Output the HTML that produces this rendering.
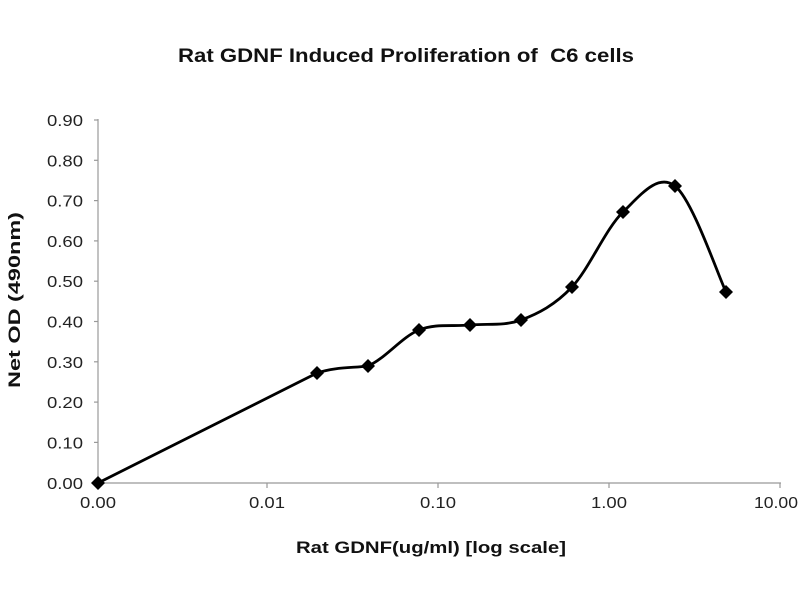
<!DOCTYPE html>
<html><head><meta charset="utf-8"><style>
html,body{margin:0;padding:0;background:#fff;}
svg{display:block;font-family:"Liberation Sans",Arial,sans-serif;}
</style></head><body>
<svg width="800" height="600" viewBox="0 0 800 600" xmlns="http://www.w3.org/2000/svg">
<text x="406" y="62" text-anchor="middle" font-size="19" font-weight="bold" fill="#111" textLength="456" lengthAdjust="spacingAndGlyphs" xml:space="preserve">Rat GDNF Induced Proliferation of  C6 cells</text>
<g stroke="#999" stroke-width="1.2" fill="none">
<line x1="98" y1="119" x2="98" y2="483"/>
<line x1="98" y1="483" x2="781" y2="483"/>
<line x1="94" y1="120" x2="98" y2="120"/>
<line x1="94" y1="160.3" x2="98" y2="160.3"/>
<line x1="94" y1="200.6" x2="98" y2="200.6"/>
<line x1="94" y1="240.9" x2="98" y2="240.9"/>
<line x1="94" y1="281.2" x2="98" y2="281.2"/>
<line x1="94" y1="321.5" x2="98" y2="321.5"/>
<line x1="94" y1="361.8" x2="98" y2="361.8"/>
<line x1="94" y1="402.1" x2="98" y2="402.1"/>
<line x1="94" y1="442.4" x2="98" y2="442.4"/>
<line x1="267" y1="483" x2="267" y2="488"/>
<line x1="438" y1="483" x2="438" y2="488"/>
<line x1="609" y1="483" x2="609" y2="488"/>
<line x1="780" y1="483" x2="780" y2="488"/>
</g>
<g font-size="15.5" fill="#222">
<text x="47" y="126" textLength="36" lengthAdjust="spacingAndGlyphs">0.90</text>
<text x="47" y="166.3" textLength="36" lengthAdjust="spacingAndGlyphs">0.80</text>
<text x="47" y="206.6" textLength="36" lengthAdjust="spacingAndGlyphs">0.70</text>
<text x="47" y="246.9" textLength="36" lengthAdjust="spacingAndGlyphs">0.60</text>
<text x="47" y="287.2" textLength="36" lengthAdjust="spacingAndGlyphs">0.50</text>
<text x="47" y="327.5" textLength="36" lengthAdjust="spacingAndGlyphs">0.40</text>
<text x="47" y="367.8" textLength="36" lengthAdjust="spacingAndGlyphs">0.30</text>
<text x="47" y="408.1" textLength="36" lengthAdjust="spacingAndGlyphs">0.20</text>
<text x="47" y="448.4" textLength="36" lengthAdjust="spacingAndGlyphs">0.10</text>
<text x="47" y="489" textLength="36" lengthAdjust="spacingAndGlyphs">0.00</text>
<text x="80" y="508" textLength="36" lengthAdjust="spacingAndGlyphs">0.00</text>
<text x="249" y="508" textLength="36" lengthAdjust="spacingAndGlyphs">0.01</text>
<text x="420" y="508" textLength="36" lengthAdjust="spacingAndGlyphs">0.10</text>
<text x="591" y="508" textLength="36" lengthAdjust="spacingAndGlyphs">1.00</text>
<text x="754" y="508" textLength="44" lengthAdjust="spacingAndGlyphs">10.00</text>
</g>
<text x="431" y="553" text-anchor="middle" font-size="17" font-weight="bold" fill="#111" textLength="270" lengthAdjust="spacingAndGlyphs">Rat GDNF(ug/ml) [log scale]</text>
<text transform="translate(20,300) rotate(-90)" text-anchor="middle" font-size="17" font-weight="bold" fill="#111" textLength="176" lengthAdjust="spacingAndGlyphs">Net OD (490nm)</text>
<path fill="none" stroke="#000" stroke-width="2.8" d="M98,483 L317,373 C335,367 352,368 368,366 C385,358.8 402,336.8 419,330 C436,323.2 453,326.7 470,325 C487,323.3 504,326.3 521,320 C538,313.7 555,305 572,287 C589,269 605.8,228.5 623,212 C640.2,195.5 657.8,172.7 675,186 C692.2,199.3 717.5,274 726,292"/>
<g fill="#000">
<path d="M98,476 l7,7 l-7,7 l-7,-7z"/>
<path d="M317,366 l7,7 l-7,7 l-7,-7z"/>
<path d="M368,359 l7,7 l-7,7 l-7,-7z"/>
<path d="M419,323 l7,7 l-7,7 l-7,-7z"/>
<path d="M470,318 l7,7 l-7,7 l-7,-7z"/>
<path d="M521,313 l7,7 l-7,7 l-7,-7z"/>
<path d="M572,280 l7,7 l-7,7 l-7,-7z"/>
<path d="M623,205 l7,7 l-7,7 l-7,-7z"/>
<path d="M675,179 l7,7 l-7,7 l-7,-7z"/>
<path d="M726,285 l7,7 l-7,7 l-7,-7z"/>
</g>
</svg>
</body></html>
